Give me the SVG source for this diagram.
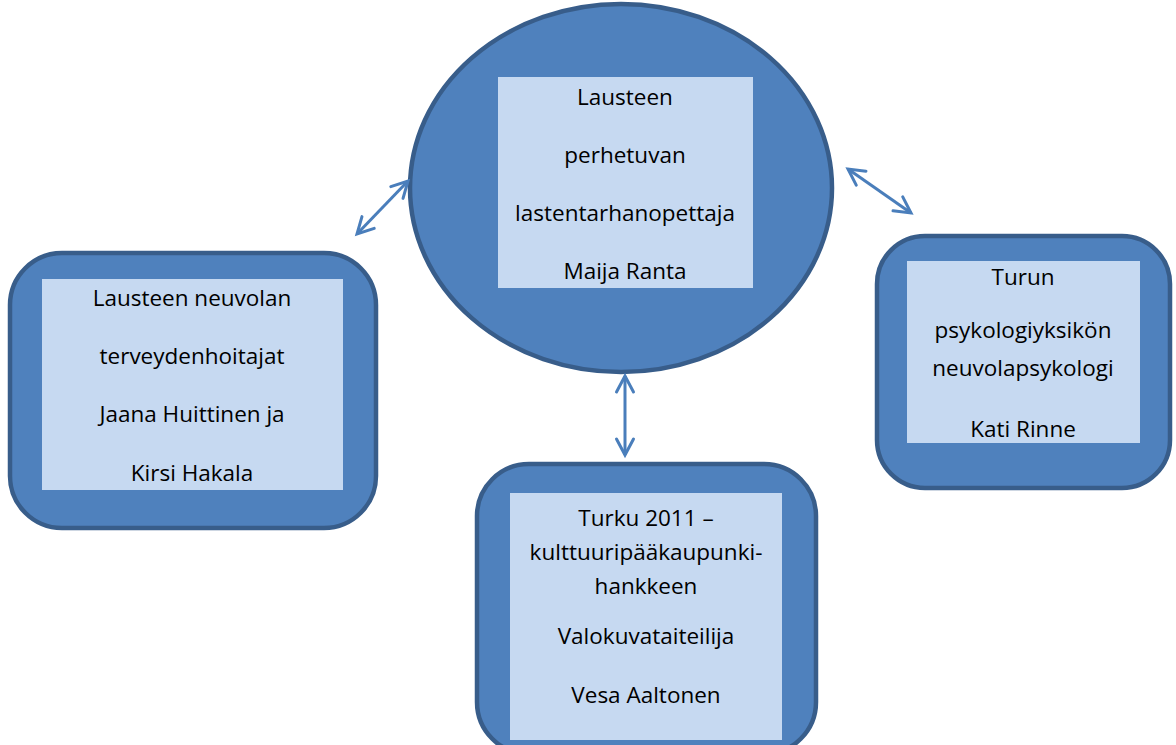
<svg xmlns="http://www.w3.org/2000/svg" width="1176" height="745" viewBox="0 0 1176 745">
<defs>
<style>
.shape{fill:#4f81bd;stroke:#385d8a;stroke-width:4.5}
.inner{fill:#c6d9f1;stroke:none}
.t{font-family:"Open Sans","Lato","Liberation Sans",sans-serif;font-size:22.5px;fill:#000;text-anchor:middle}
.conn{stroke:#4a7ebb;stroke-width:3;fill:none}
</style>
<marker id="ah" viewBox="0 0 20 20" refX="18" refY="10" markerWidth="20" markerHeight="20" markerUnits="userSpaceOnUse" orient="auto-start-reverse" overflow="visible">
<path d="M2,1.5 L18,10 L2,18.5" fill="none" stroke="#4a7ebb" stroke-width="3" stroke-linecap="round" stroke-linejoin="miter"/>
</marker>
</defs>
<rect width="1176" height="745" fill="#fff"/>
<g id="center">
<ellipse class="shape" cx="621" cy="188" rx="211" ry="184"/>
<rect class="inner" x="498" y="77" width="255" height="211"/>
<text class="t" x="625" y="105">Lausteen</text>
<text class="t" x="625" y="163">perhetuvan</text>
<text class="t" x="625" y="221">lastentarhanopettaja</text>
<text class="t" x="625" y="279">Maija Ranta</text>
</g>
<g id="left">
<rect class="shape" x="10" y="253" width="366" height="275" rx="52"/>
<rect class="inner" x="42" y="279" width="301" height="211"/>
<text class="t" x="192" y="306">Lausteen neuvolan</text>
<text class="t" x="192" y="364">terveydenhoitajat</text>
<text class="t" x="192" y="422">Jaana Huittinen ja</text>
<text class="t" x="192" y="481">Kirsi Hakala</text>
</g>
<g id="right">
<rect class="shape" x="877" y="236" width="293" height="252" rx="48"/>
<rect class="inner" x="907" y="261" width="233" height="182"/>
<text class="t" x="1023" y="285">Turun</text>
<text class="t" x="1023" y="338">psykologiyksikön</text>
<text class="t" x="1023" y="376">neuvolapsykologi</text>
<text class="t" x="1023" y="437">Kati Rinne</text>
</g>
<g id="bottom">
<rect class="shape" x="477" y="464" width="339" height="290" rx="52"/>
<rect class="inner" x="510" y="493" width="272" height="247"/>
<text class="t" x="646" y="526">Turku 2011 –</text>
<text class="t" x="646" y="560">kulttuuripääkaupunki-</text>
<text class="t" x="646" y="594">hankkeen</text>
<text class="t" x="646" y="644">Valokuvataiteilija</text>
<text class="t" x="646" y="703">Vesa Aaltonen</text>
</g>
<g id="connectors">
<line class="conn" x1="357" y1="234" x2="408" y2="181" marker-start="url(#ah)" marker-end="url(#ah)"/>
<line class="conn" x1="848" y1="169" x2="911" y2="213" marker-start="url(#ah)" marker-end="url(#ah)"/>
<line class="conn" x1="625" y1="376" x2="625" y2="455" marker-start="url(#ah)" marker-end="url(#ah)"/>
</g>
</svg>
